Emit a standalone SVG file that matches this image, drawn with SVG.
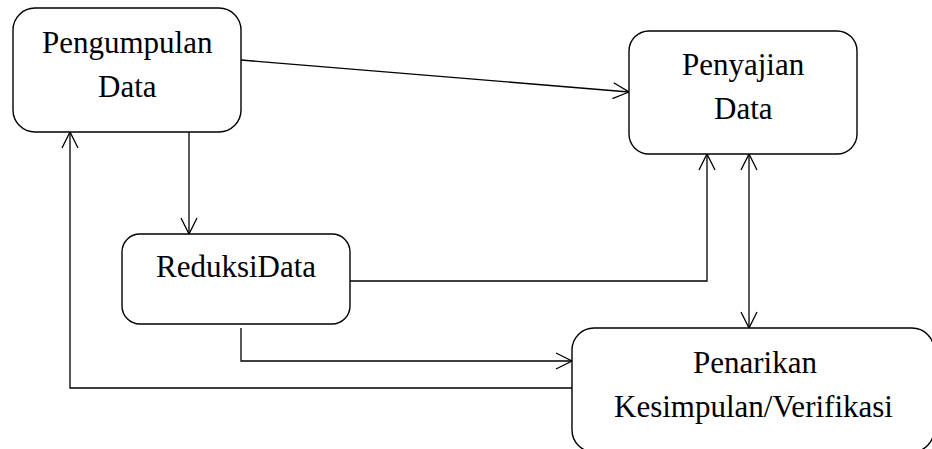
<svg xmlns="http://www.w3.org/2000/svg" width="932" height="449" viewBox="0 0 932 449">
<defs>
<style>
.box{fill:#fff;stroke:#000;stroke-width:1.4}
.con{fill:none;stroke:#000;stroke-width:1.3}
</style>
<marker id="ah" markerUnits="userSpaceOnUse" viewBox="-17 -10 19 20" refX="0" refY="0" markerWidth="19" markerHeight="20" orient="auto-start-reverse">
<path d="M-16,-8 L0,0 L-16,8" fill="none" stroke="#000" stroke-width="1.3"/>
</marker>
</defs>
<rect width="932" height="449" fill="#fff"/>
<g id="connectors">
<line class="con" x1="241" y1="60" x2="629" y2="92" marker-end="url(#ah)"/>
<line class="con" x1="189" y1="132" x2="189" y2="234" marker-end="url(#ah)"/>
<polyline class="con" points="350,281 707,281 707,154" marker-end="url(#ah)"/>
<line class="con" x1="749" y1="154" x2="749" y2="328" marker-start="url(#ah)" marker-end="url(#ah)"/>
<polyline class="con" points="241,328 241,361 572,361" marker-end="url(#ah)"/>
<polyline class="con" points="572,388 70,388 70,132" marker-end="url(#ah)"/>
</g>
<g id="pengumpulan">
<rect class="box" x="13" y="8" width="228" height="124" rx="22"/>
<text x="42" y="53" font-family="'Liberation Serif'" font-size="31">Pengumpulan</text>
<text x="98" y="97" font-family="'Liberation Serif'" font-size="31">Data</text>
</g>
<g id="penyajian">
<rect class="box" x="629" y="31" width="228" height="123" rx="20"/>
<text x="682" y="75" font-family="'Liberation Serif'" font-size="31">Penyajian</text>
<text x="714" y="119" font-family="'Liberation Serif'" font-size="31">Data</text>
</g>
<g id="reduksi">
<rect class="box" x="122" y="234" width="228" height="90" rx="18"/>
<text x="156" y="277" font-family="'Liberation Serif'" font-size="31">ReduksiData</text>
</g>
<g id="penarikan">
<rect class="box" x="572" y="328" width="362" height="124" rx="22"/>
<text x="693" y="373" font-family="'Liberation Serif'" font-size="31">Penarikan</text>
<text x="614" y="417" font-family="'Liberation Serif'" font-size="31">Kesimpulan/Verifikasi</text>
</g>
</svg>
